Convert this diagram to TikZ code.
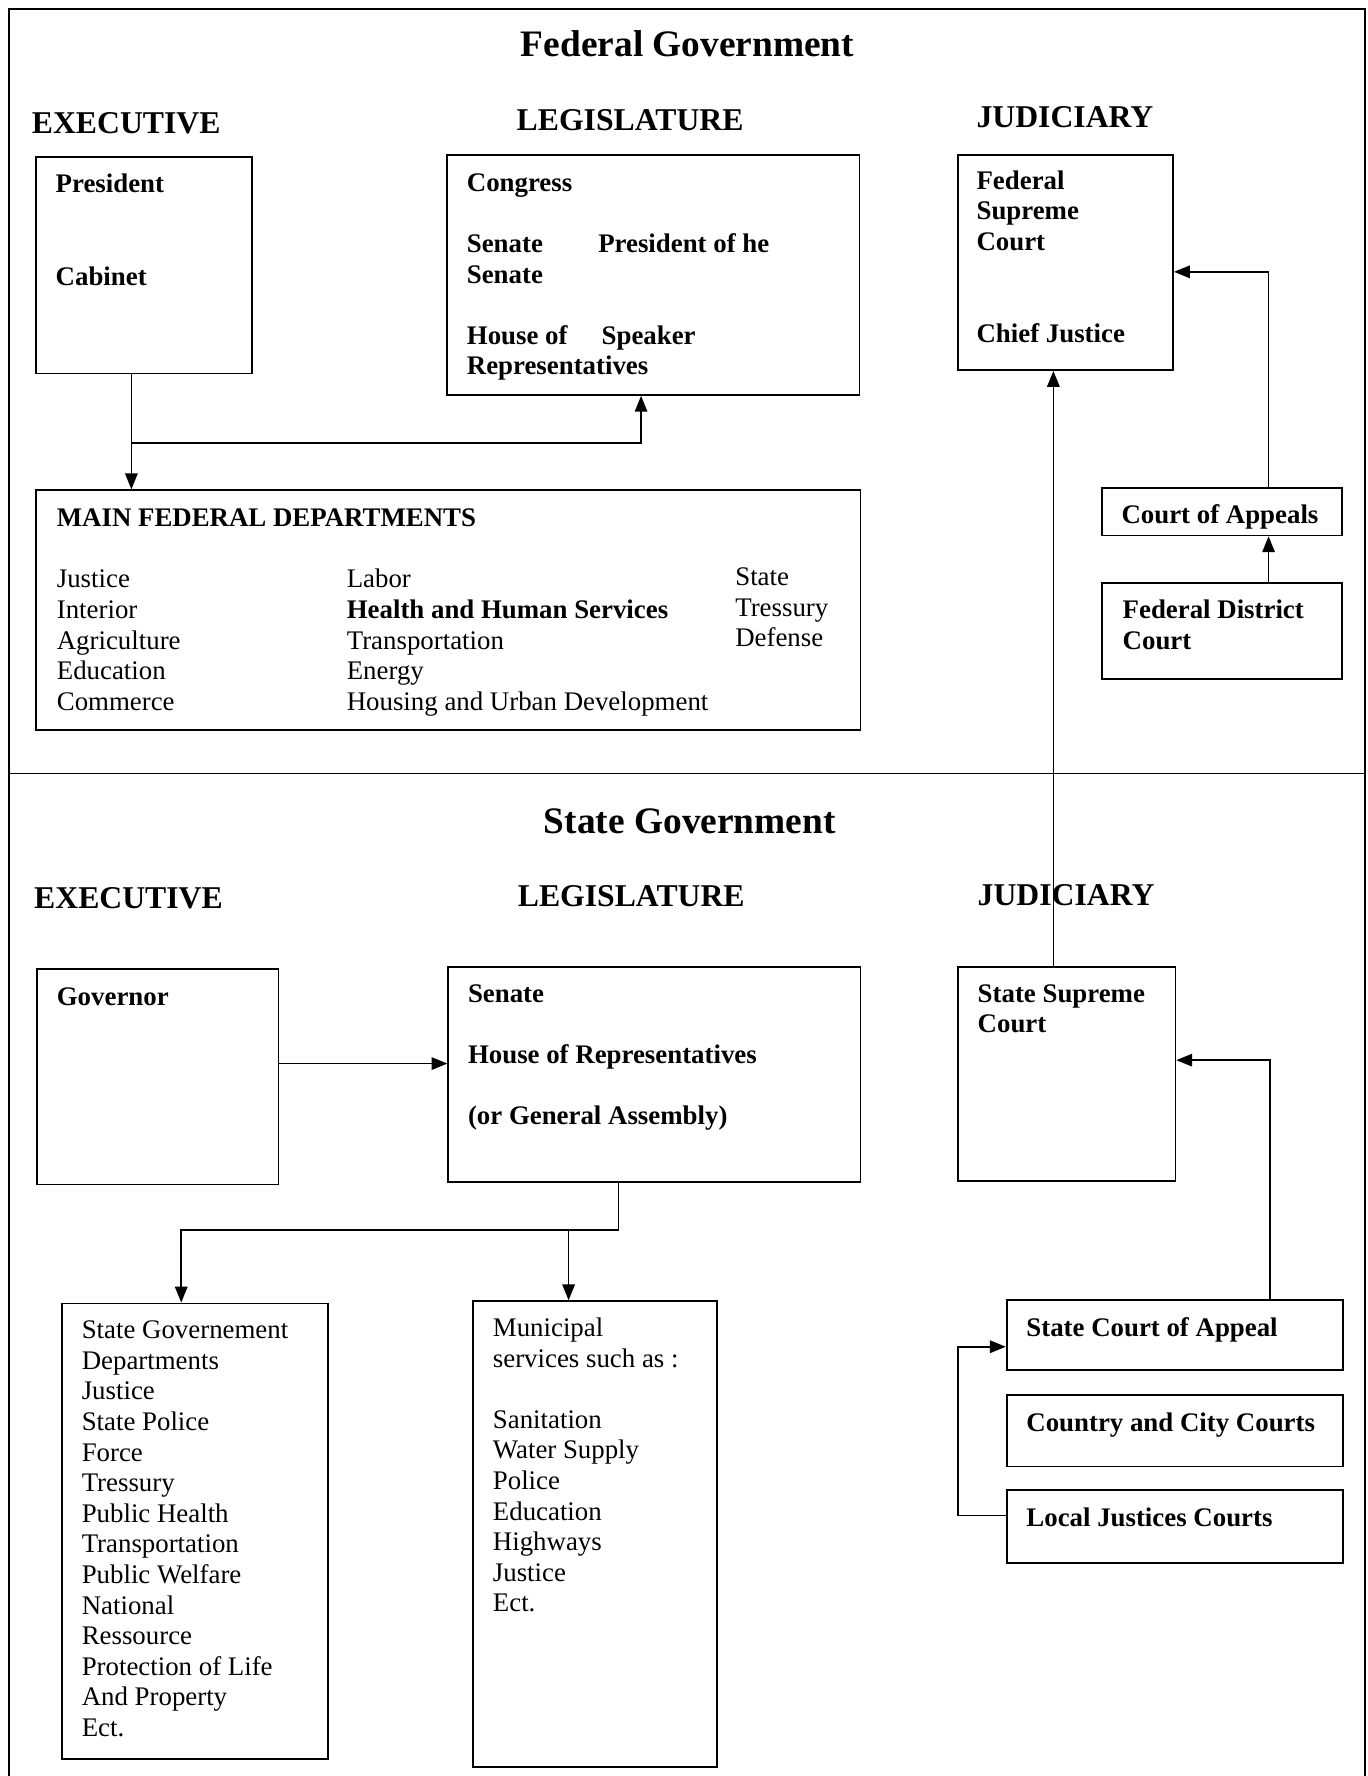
\documentclass[tikz,border=0pt]{standalone}
\usepackage{fontspec}
\setmainfont{Liberation Serif}
\usetikzlibrary{arrows.meta}

\begin{document}
\begin{tikzpicture}[x=1pt,y=-1pt,
  box/.style={draw, line width=1.5pt, inner sep=0pt, anchor=north west},
  txt/.style={anchor=base west, inner sep=0pt, font=\fontsize{23.7}{27}\selectfont},
  btxt/.style={anchor=base west, inner sep=0pt, font=\fontsize{23.7}{27}\selectfont\bfseries},
  head/.style={anchor=base west, inner sep=0pt, font=\fontsize{28}{32}\selectfont\bfseries},
  ttl/.style={anchor=base, inner sep=0pt, font=\fontsize{33}{38}\selectfont\bfseries},
  link/.style={line width=1.5pt},
  arr/.style={line width=1.5pt, -{Triangle[length=14pt,width=11pt]}},
]
\useasboundingbox (0,0) rectangle (1207,1568);
\fill[white] (0,0) rectangle (1207,1568);

% frame and divider between the two levels of government
\draw[link] (8,1568) -- (8,8) -- (1205,8) -- (1205,1568);
\draw[link] (8,683) -- (1205,683);

% ---------------- Federal level ----------------
\node[ttl] (fedtitle) at (607,50) {Federal Government};
\node[head] (fedexe) at (28,118) {EXECUTIVE};
\node[head] (fedleg) at (456,115) {LEGISLATURE};
\node[head] (fedjud) at (862,113) {JUDICIARY};

\node[box, minimum width=191pt, minimum height=191pt] (pres) at (31,138) {};
\node[btxt] (presT) at (49,170) {President};
\node[btxt] (cabT) at (49,252) {Cabinet};

\node[box, minimum width=364pt, minimum height=212pt] (cong) at (394,136) {};
\node[btxt] (congT) at (412,169) {Congress};
\node[btxt] (senT) at (412,223) {Senate};
\node[btxt] (psenT) at (528,223) {President of he};
\node[btxt] (sen2T) at (412,250) {Senate};
\node[btxt] (houseT) at (412,304) {House of};
\node[btxt] (spkT) at (531,304) {Speaker};
\node[btxt] (repT) at (412,331) {Representatives};

\node[box, minimum width=190pt, minimum height=190pt] (fsc) at (845,136) {};
\node[btxt] (fscA) at (862,167) {Federal};
\node[btxt] (fscB) at (862,194) {Supreme};
\node[btxt] (fscC) at (862,221) {Court};
\node[btxt] (cjT) at (862,302) {Chief Justice};

\node[box, minimum width=728pt, minimum height=212pt] (mfd) at (31,432) {};
\node[btxt] (mfdT) at (50,465) {MAIN FEDERAL DEPARTMENTS};
\foreach \t [count=\i from 0] in {Justice,Interior,Agriculture,Education,Commerce}
  \node[txt, name=mfdA\i] at (50,519+27*\i) {\t};
\node[txt] (mfdB0) at (306,519) {Labor};
\node[btxt] (mfdB1) at (306,546) {Health and Human Services};
\foreach \t [count=\i from 2] in {Transportation,Energy,Housing and Urban Development}
  \node[txt, name=mfdB\i] at (306,519+27*\i) {\t};
\foreach \t [count=\i from 0] in {State,Tressury,Defense}
  \node[txt, name=mfdC\i] at (649,517+27*\i) {\t};

\node[box, minimum width=212pt, minimum height=42pt] (fca) at (972,430) {};
\node[btxt] (fcaT) at (990,462) {Court of Appeals};
\node[box, minimum width=212pt, minimum height=85pt] (fdc) at (972,514) {};
\node[btxt] (fdcA) at (991,546) {Federal District};
\node[btxt] (fdcB) at (991,573) {Court};

\coordinate (fedsplit) at (116,391);
\draw[arr] (pres.south -| fedsplit) -- (mfd.north -| fedsplit);
\draw[arr] (fedsplit) -| (cong.south -| 566,0);
\draw[arr] (fdc.north -| 1120,0) -- (fca.south -| 1120,0);
\draw[arr] (fca.north -| 1120,0) |- (fsc.east |- 0,240);

% ---------------- State level ----------------
\node[ttl] (sttitle) at (609,736) {State Government};
\node[head] (stexe) at (30,802) {EXECUTIVE};
\node[head] (stleg) at (457,800) {LEGISLATURE};
\node[head] (stjud) at (863,799) {JUDICIARY};

\node[box, minimum width=213pt, minimum height=190pt] (gov) at (32,855) {};
\node[btxt] (govT) at (50,888) {Governor};

\node[box, minimum width=364pt, minimum height=190pt] (leg) at (395,853) {};
\node[btxt] (legA) at (413,885) {Senate};
\node[btxt] (legB) at (413,939) {House of Representatives};
\node[btxt] (legC) at (413,993) {(or General Assembly)};

\node[box, minimum width=192pt, minimum height=189pt] (ssc) at (845,853) {};
\node[btxt] (sscA) at (863,885) {State Supreme};
\node[btxt] (sscB) at (863,912) {Court};

\node[box, minimum width=235pt, minimum height=402pt] (sgd) at (54,1150) {};
\foreach \t [count=\i from 0] in {State Governement,Departments,Justice,State Police,Force,Tressury,Public Health,Transportation,Public Welfare,National,Ressource,Protection of Life,And Property,Ect.}
  \node[txt, name=sgdT\i] at (72,1182+27*\i) {\t};

\node[box, minimum width=215pt, minimum height=411pt] (mun) at (417,1148) {};
\node[txt] (munA) at (435,1180) {Municipal};
\node[txt] (munB) at (435,1207) {services such as :};
\foreach \t [count=\i from 0] in {Sanitation,Water Supply,Police,Education,Highways,Justice,Ect.}
  \node[txt, name=munT\i] at (435,1261+27*\i) {\t};

\node[box, minimum width=297pt, minimum height=62pt] (sca) at (888,1147) {};
\node[btxt] (scaT) at (906,1180) {State Court of Appeal};
\node[box, minimum width=297pt, minimum height=63pt] (ccc) at (888,1231) {};
\node[btxt] (cccT) at (906,1264) {Country and City Courts};
\node[box, minimum width=297pt, minimum height=64pt] (ljc) at (888,1315) {};
\node[btxt] (ljcT) at (906,1348) {Local Justices Courts};

\draw[arr] (gov.east |- 0,939) -- (leg.west |- 0,939);
\coordinate (legdrop) at (546,1086);
\coordinate (sgdturn) at (160,1086);
\coordinate (munturn) at (502,1086);
\draw[arr] (leg.south -| legdrop) -- (legdrop) -- (sgdturn) -- (sgd.north -| sgdturn);
\draw[arr] (munturn) -- (mun.north -| munturn);
\draw[arr] (sca.north -| 1121,0) |- (ssc.east |- 0,936);
\draw[arr] (ljc.west |- 0,1338) -| (846,1189) -- (sca.west |- 0,1189);

% state supreme court appeals up to the federal supreme court
\draw[arr] (ssc.north -| 930,0) -- (fsc.south -| 930,0);
\end{tikzpicture}
\end{document}
